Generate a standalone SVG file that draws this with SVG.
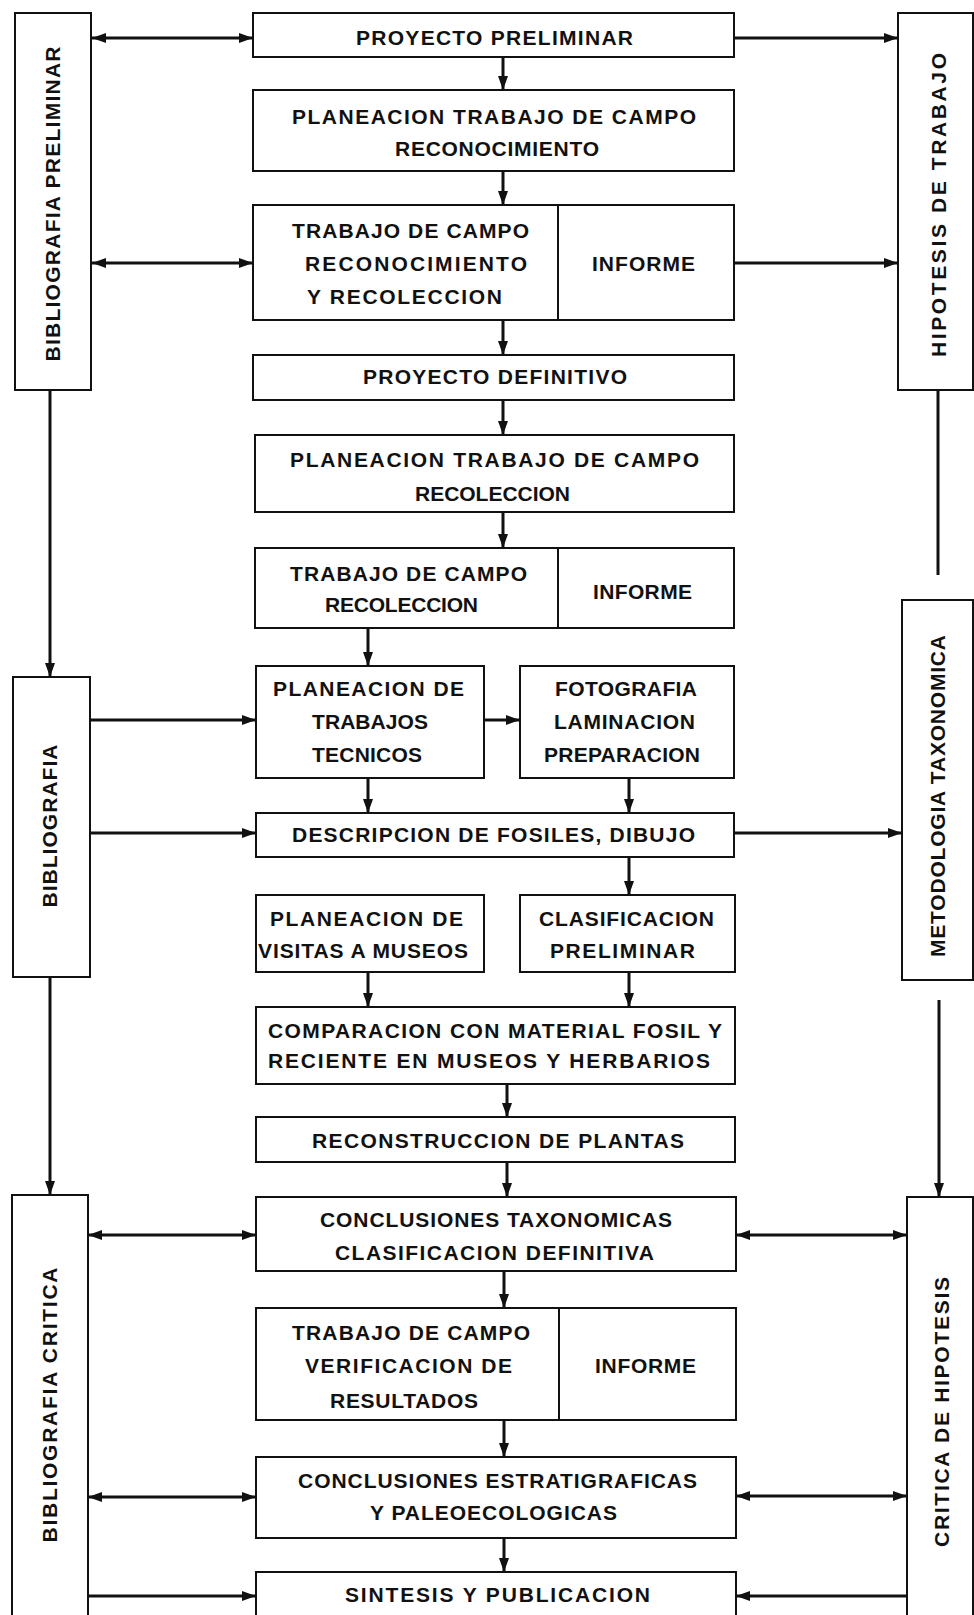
<svg xmlns="http://www.w3.org/2000/svg" width="974" height="1615" viewBox="0 0 974 1615">
<style>
.box{fill:#fff;stroke:#111;stroke-width:2}
.div{stroke:#111;stroke-width:2}
.t{font-family:"Liberation Sans",Arial,sans-serif;font-weight:bold;font-size:21px;fill:#111;text-anchor:middle}
.v{font-family:"Liberation Sans",Arial,sans-serif;font-weight:bold;font-size:21px;fill:#111;text-anchor:middle}
.c{fill:none;stroke:#111;stroke-width:3}
.e{marker-end:url(#ah)}
.b{marker-start:url(#as);marker-end:url(#ah)}
</style>
<defs>
<marker id="ah" markerUnits="userSpaceOnUse" markerWidth="14" markerHeight="10" refX="14" refY="5" orient="auto"><path d="M0,0 L14,5 L0,10 z" fill="#111"/></marker>
<marker id="as" markerUnits="userSpaceOnUse" markerWidth="14" markerHeight="10" refX="0" refY="5" orient="auto"><path d="M14,0 L0,5 L14,10 z" fill="#111"/></marker>
</defs>
<rect width="974" height="1615" fill="#fff"/>

<g id="connectors">
<line class="c b" x1="92" y1="38" x2="253" y2="38"/>
<line class="c b" x1="92" y1="263" x2="253" y2="263"/>
<line class="c e" x1="734" y1="38" x2="898" y2="38"/>
<line class="c e" x1="734" y1="263" x2="898" y2="263"/>
<line class="c e" x1="50" y1="390" x2="50" y2="677"/>
<line class="c" x1="938" y1="390" x2="938" y2="575"/>
<line class="c e" x1="90" y1="720" x2="256" y2="720"/>
<line class="c e" x1="90" y1="833" x2="256" y2="833"/>
<line class="c e" x1="734" y1="833" x2="902" y2="833"/>
<line class="c e" x1="50" y1="977" x2="50" y2="1195"/>
<line class="c e" x1="939" y1="1000" x2="939" y2="1197"/>
<line class="c b" x1="88" y1="1235" x2="256" y2="1235"/>
<line class="c b" x1="736" y1="1235" x2="907" y2="1235"/>
<line class="c b" x1="88" y1="1497" x2="256" y2="1497"/>
<line class="c b" x1="736" y1="1496" x2="907" y2="1496"/>
<line class="c e" x1="88" y1="1596" x2="256" y2="1596"/>
<line class="c e" x1="907" y1="1596" x2="736" y2="1596"/>
<line class="c e" x1="503" y1="57" x2="503" y2="90"/>
<line class="c e" x1="503" y1="171" x2="503" y2="205"/>
<line class="c e" x1="503" y1="320" x2="503" y2="355"/>
<line class="c e" x1="503" y1="400" x2="503" y2="435"/>
<line class="c e" x1="503" y1="512" x2="503" y2="548"/>
<line class="c e" x1="368" y1="628" x2="368" y2="666"/>
<line class="c e" x1="484" y1="720" x2="520" y2="720"/>
<line class="c e" x1="368" y1="778" x2="368" y2="813"/>
<line class="c e" x1="629" y1="778" x2="629" y2="813"/>
<line class="c e" x1="629" y1="857" x2="629" y2="895"/>
<line class="c e" x1="368" y1="972" x2="368" y2="1007"/>
<line class="c e" x1="629" y1="972" x2="629" y2="1007"/>
<line class="c e" x1="507" y1="1084" x2="507" y2="1117"/>
<line class="c e" x1="507" y1="1162" x2="507" y2="1197"/>
<line class="c e" x1="504" y1="1271" x2="504" y2="1308"/>
<line class="c e" x1="504" y1="1420" x2="504" y2="1457"/>
<line class="c e" x1="504" y1="1538" x2="504" y2="1572"/>
</g>

<g id="bib-preliminar"><rect class="box" x="15" y="13" width="76" height="377"/>
<text class="v" transform="translate(60,204) rotate(-90)" textLength="315" lengthAdjust="spacing">BIBLIOGRAFIA PRELIMINAR</text></g>
<g id="hipotesis-trabajo"><rect class="box" x="898" y="13" width="75" height="377"/>
<text class="v" transform="translate(946,205) rotate(-90)" textLength="304" lengthAdjust="spacing">HIPOTESIS  DE  TRABAJO</text></g>
<g id="bibliografia"><rect class="box" x="13" y="677" width="77" height="300"/>
<text class="v" transform="translate(57,826) rotate(-90)" textLength="163" lengthAdjust="spacing">BIBLIOGRAFIA</text></g>
<g id="metodologia"><rect class="box" x="902" y="600" width="71" height="380"/>
<text class="v" transform="translate(945,796) rotate(-90)" textLength="322" lengthAdjust="spacing">METODOLOGIA TAXONOMICA</text></g>
<g id="bib-critica"><rect class="box" x="12" y="1195" width="76" height="430"/>
<text class="v" transform="translate(57,1405) rotate(-90)" textLength="275" lengthAdjust="spacing">BIBLIOGRAFIA CRITICA</text></g>
<g id="critica-hipotesis"><rect class="box" x="907" y="1197" width="66" height="430"/>
<text class="v" transform="translate(949,1412) rotate(-90)" textLength="270" lengthAdjust="spacing">CRITICA DE HIPOTESIS</text></g>

<g id="proyecto-preliminar"><rect class="box" x="253" y="13" width="481" height="44"/>
<text class="t" x="494.5" y="45" textLength="277" lengthAdjust="spacing">PROYECTO  PRELIMINAR</text></g>
<g id="planeacion-reconocimiento"><rect class="box" x="253" y="90" width="481" height="81"/>
<text class="t" x="494" y="124" textLength="404" lengthAdjust="spacing">PLANEACION TRABAJO DE CAMPO</text>
<text class="t" x="497" y="156" textLength="204" lengthAdjust="spacing">RECONOCIMIENTO</text></g>
<g id="trabajo-reconocimiento"><rect class="box" x="253" y="205" width="481" height="115"/>
<line class="div" x1="558" y1="205" x2="558" y2="320"/>
<text class="t" x="410.5" y="238" textLength="237" lengthAdjust="spacing">TRABAJO DE CAMPO</text>
<text class="t" x="416" y="271" textLength="222" lengthAdjust="spacing">RECONOCIMIENTO</text>
<text class="t" x="404.5" y="304" textLength="195" lengthAdjust="spacing">Y  RECOLECCION</text>
<text class="t" x="643.5" y="271" textLength="103" lengthAdjust="spacing">INFORME</text></g>
<g id="proyecto-definitivo"><rect class="box" x="253" y="355" width="481" height="45"/>
<text class="t" x="495" y="384" textLength="264" lengthAdjust="spacing">PROYECTO  DEFINITIVO</text></g>
<g id="planeacion-recoleccion"><rect class="box" x="255" y="435" width="479" height="77"/>
<text class="t" x="494.5" y="467" textLength="409" lengthAdjust="spacing">PLANEACION  TRABAJO DE CAMPO</text>
<text class="t" x="492.5" y="501" textLength="155" lengthAdjust="spacing">RECOLECCION</text></g>
<g id="trabajo-recoleccion"><rect class="box" x="255" y="548" width="479" height="80"/>
<line class="div" x1="558" y1="548" x2="558" y2="628"/>
<text class="t" x="408.5" y="581" textLength="237" lengthAdjust="spacing">TRABAJO DE CAMPO</text>
<text class="t" x="401.5" y="612" textLength="153" lengthAdjust="spacing">RECOLECCION</text>
<text class="t" x="642.5" y="599" textLength="99" lengthAdjust="spacing">INFORME</text></g>
<g id="planeacion-tecnicos"><rect class="box" x="256" y="666" width="228" height="112"/>
<text class="t" x="368.5" y="696" textLength="191" lengthAdjust="spacing">PLANEACION DE</text>
<text class="t" x="370" y="729" textLength="116" lengthAdjust="spacing">TRABAJOS</text>
<text class="t" x="367" y="762" textLength="110" lengthAdjust="spacing">TECNICOS</text></g>
<g id="fotografia"><rect class="box" x="520" y="666" width="214" height="112"/>
<text class="t" x="626" y="696" textLength="142" lengthAdjust="spacing">FOTOGRAFIA</text>
<text class="t" x="624.5" y="729" textLength="141" lengthAdjust="spacing">LAMINACION</text>
<text class="t" x="622" y="762" textLength="156" lengthAdjust="spacing">PREPARACION</text></g>
<g id="descripcion"><rect class="box" x="256" y="813" width="478" height="44"/>
<text class="t" x="493.5" y="842" textLength="403" lengthAdjust="spacing">DESCRIPCION DE FOSILES, DIBUJO</text></g>
<g id="planeacion-museos"><rect class="box" x="256" y="895" width="228" height="77"/>
<text class="t" x="366.5" y="926" textLength="193" lengthAdjust="spacing">PLANEACION DE</text>
<text class="t" x="363" y="958" textLength="210" lengthAdjust="spacing">VISITAS A MUSEOS</text></g>
<g id="clasificacion-preliminar"><rect class="box" x="520" y="895" width="215" height="77"/>
<text class="t" x="626.5" y="926" textLength="175" lengthAdjust="spacing">CLASIFICACION</text>
<text class="t" x="622.5" y="958" textLength="145" lengthAdjust="spacing">PRELIMINAR</text></g>
<g id="comparacion"><rect class="box" x="256" y="1007" width="479" height="77"/>
<text class="t" x="495" y="1038" textLength="454" lengthAdjust="spacing">COMPARACION  CON  MATERIAL  FOSIL Y</text>
<text class="t" x="489" y="1068" textLength="442" lengthAdjust="spacing">RECIENTE  EN  MUSEOS  Y  HERBARIOS</text></g>
<g id="reconstruccion"><rect class="box" x="256" y="1117" width="479" height="45"/>
<text class="t" x="498" y="1148" textLength="372" lengthAdjust="spacing">RECONSTRUCCION DE PLANTAS</text></g>
<g id="conclusiones-taxonomicas"><rect class="box" x="256" y="1197" width="480" height="74"/>
<text class="t" x="496" y="1227" textLength="352" lengthAdjust="spacing">CONCLUSIONES  TAXONOMICAS</text>
<text class="t" x="494.5" y="1260" textLength="319" lengthAdjust="spacing">CLASIFICACION  DEFINITIVA</text></g>
<g id="trabajo-verificacion"><rect class="box" x="256" y="1308" width="480" height="112"/>
<line class="div" x1="559" y1="1308" x2="559" y2="1420"/>
<text class="t" x="411" y="1340" textLength="238" lengthAdjust="spacing">TRABAJO DE CAMPO</text>
<text class="t" x="408.5" y="1373" textLength="207" lengthAdjust="spacing">VERIFICACION  DE</text>
<text class="t" x="404" y="1408" textLength="148" lengthAdjust="spacing">RESULTADOS</text>
<text class="t" x="645.5" y="1373" textLength="101" lengthAdjust="spacing">INFORME</text></g>
<g id="conclusiones-estratigraficas"><rect class="box" x="256" y="1457" width="480" height="81"/>
<text class="t" x="497.5" y="1488" textLength="399" lengthAdjust="spacing">CONCLUSIONES ESTRATIGRAFICAS</text>
<text class="t" x="493.5" y="1520" textLength="247" lengthAdjust="spacing">Y  PALEOECOLOGICAS</text></g>
<g id="sintesis"><rect class="box" x="256" y="1572" width="480" height="55"/>
<text class="t" x="497.5" y="1602" textLength="305" lengthAdjust="spacing">SINTESIS  Y  PUBLICACION</text></g>
</svg>
